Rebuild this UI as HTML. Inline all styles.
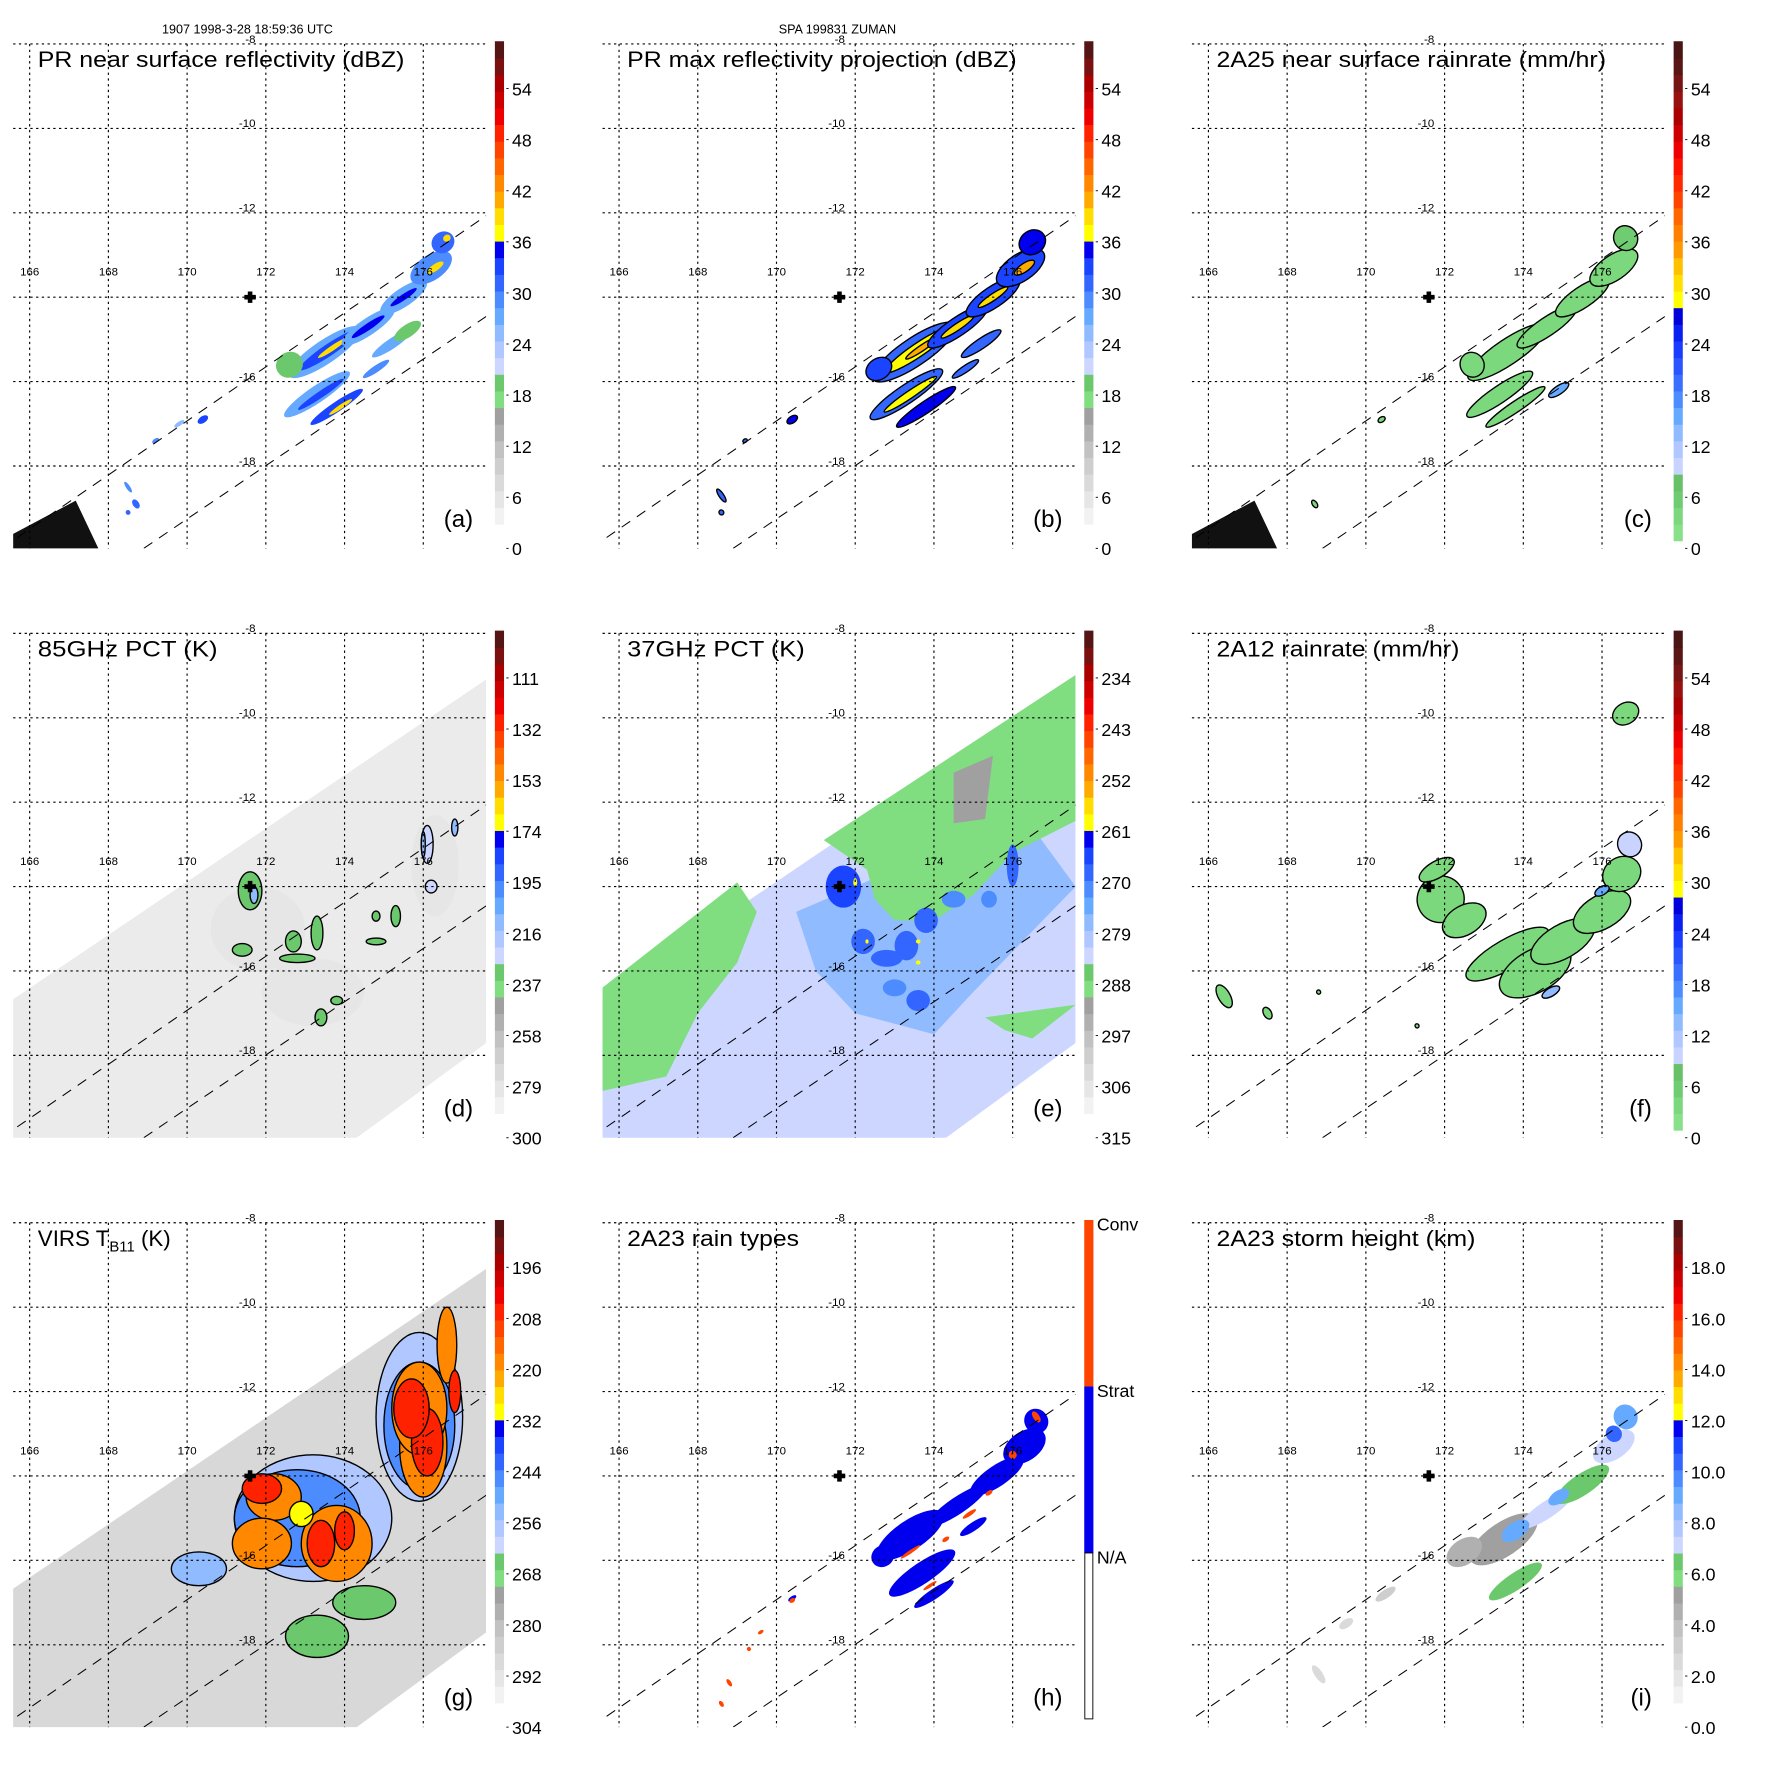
<!DOCTYPE html>
<html><head><meta charset="utf-8"><style>
html,body{margin:0;padding:0;background:#fff;}
svg{display:block;font-family:"Liberation Sans",sans-serif;}
</style></head><body>
<svg id="fig" width="1771" height="1771" viewBox="0 0 1546 1546" xmlns="http://www.w3.org/2000/svg">
<text x="216" y="29.4" font-size="11" text-anchor="middle">1907 1998-3-28 18:59:36 UTC</text>
<text x="731" y="29.4" font-size="11" text-anchor="middle">SPA 199831 ZUMAN</text>
</svg>
<script>
const NS='http://www.w3.org/2000/svg';
const svg=document.getElementById('fig');
// ---- data ----
const lonTicks=[166,168,170,172,174,176];
const latTicks=[-8,-10,-12,-14,-16,-18];
const latLabels=['-8','-10','-12','','-16','-18'];
const stormCenter=[171.6,-14.0];
const labelsA=['54','48','42','36','30','24','18','12','6','0'];
const labelsD=['111','132','153','174','195','216','237','258','279','300'];
const labelsE=['234','243','252','261','270','279','288','297','306','315'];
const labelsG=['196','208','220','232','244','256','268','280','292','304'];
const labelsI=['18.0','16.0','14.0','12.0','10.0','8.0','6.0','4.0','2.0','0.0'];
const schemeA=['#ffffff','#f2f2f2','#e6e6e6','#dadada','#cecece','#c2c2c2','#b0b0b0','#a0a0a0','#80dd80','#6cc86c','#ccd6ff','#b0c8ff','#90bbff','#66aaff','#4c8cff','#3366ff','#1a44ff','#0000ee','#ffff00','#ffdd00','#ffaa00','#ff8800','#ff6600','#ff4400','#ff2200','#ee0000','#cc0000','#aa0000','#7a1010','#551515'];
const schemeC=['#88e088','#7cd87c','#70cc70','#68c068','#c8d4ff','#b0c8ff','#90bbff','#66aaff','#4c8cff','#3a70ff','#2a55ff','#1a3cff','#0a20f0','#0000dd','#ffff00','#ffe000','#ffc000','#ff9900','#ff8000','#ff6600','#ff4400','#ff2a00','#ff1100','#ee0000','#cc0000','#aa0000','#991010','#771515','#5a1515','#4a1515'];
const swathPR=[[165.3,-19.94],[177.8,-11.94],[168.9,-19.95],[177.8,-14.33]];
const swathTMI=[[165.3,-16.85],[177.9,-8.9],[177.9,-17.5],[173.8,-20.3],[165.3,-20.3]];
const wedge=[[165.3,-19.75],[167.17,-18.82],[167.92,-20.3],[165.3,-20.3]];
// panel a: [lon,lat,rx,ry,dBZ]
const blobsA=[[173.5,-15.3,1.1,0.28,26],[173.6,-15.25,0.9,0.14,32],[173.7,-15.2,0.45,0.06,38],[173.3,-16.3,1.0,0.2,26],[173.4,-16.3,0.7,0.08,32],[173.8,-16.6,0.8,0.12,32],[173.9,-16.6,0.35,0.05,38],[174.6,-14.7,0.8,0.2,26],[174.6,-14.7,0.5,0.08,34],[175.5,-14.0,0.7,0.22,26],[175.5,-14.0,0.4,0.07,34],[176.2,-13.3,0.6,0.3,28],[176.3,-13.3,0.25,0.08,38],[176.5,-12.7,0.3,0.25,30],[176.6,-12.6,0.1,0.08,38],[175.2,-15.1,0.6,0.12,26],[172.6,-15.6,0.35,0.3,18],[175.6,-14.8,0.4,0.15,18],[174.8,-15.7,0.4,0.08,28],[170.4,-16.9,0.15,0.08,32],[169.8,-17.0,0.15,0.05,24],[169.2,-17.4,0.1,0.05,28],[168.5,-18.5,0.05,0.15,28],[168.7,-18.9,0.08,0.12,30],[168.5,-19.1,0.06,0.06,30]];
const blobsB=[[173.5,-15.3,1.25,0.33,30],[173.6,-15.25,1.0,0.16,36],[173.7,-15.2,0.5,0.07,40],[173.3,-16.3,1.1,0.22,30],[173.4,-16.3,0.8,0.09,36],[173.8,-16.6,0.9,0.14,34],[174.6,-14.7,0.9,0.22,32],[174.6,-14.7,0.5,0.08,38],[175.5,-14.0,0.8,0.25,32],[175.5,-14.0,0.45,0.08,38],[176.2,-13.3,0.7,0.32,32],[176.3,-13.3,0.3,0.1,40],[176.5,-12.7,0.35,0.28,34],[175.2,-15.1,0.6,0.12,30],[172.6,-15.7,0.35,0.25,32],[174.8,-15.7,0.4,0.08,30],[170.4,-16.9,0.15,0.08,34],[169.2,-17.4,0.06,0.04,30],[168.6,-18.7,0.06,0.18,30],[168.6,-19.1,0.06,0.06,30]];
const blobsC=[[173.6,-15.3,1.2,0.3,3],[173.4,-16.3,1.0,0.2,3],[174.6,-14.7,0.9,0.22,3],[175.5,-14.0,0.8,0.25,3],[176.3,-13.3,0.7,0.3,3],[176.6,-12.6,0.3,0.3,4],[173.8,-16.6,0.9,0.13,3],[174.9,-16.2,0.3,0.1,14],[172.7,-15.6,0.3,0.3,3],[170.4,-16.9,0.1,0.06,3],[168.7,-18.9,0.06,0.1,3]];
// panel d: [lon,lat,rx,ry,K]
const shadeD=[[171.8,-15.0,1.2,1.0,284],[173.2,-16.5,1.3,0.8,286],[176.3,-13.5,0.6,1.2,286]];
const blobsD=[[171.6,-14.1,0.3,0.45,232],[171.7,-14.2,0.1,0.2,215],[171.4,-15.5,0.25,0.15,235],[172.8,-15.7,0.45,0.1,234],[173.3,-15.1,0.15,0.4,234],[172.7,-15.3,0.2,0.25,234],[176.1,-13.0,0.15,0.45,230],[176.0,-13.0,0.05,0.3,210],[176.2,-14.0,0.15,0.15,225],[175.3,-14.7,0.12,0.25,234],[174.8,-14.7,0.1,0.12,234],[174.8,-15.3,0.25,0.08,234],[173.4,-17.1,0.15,0.2,234],[173.8,-16.7,0.15,0.1,234],[176.8,-12.6,0.08,0.2,215]];
// panel e: polygons [K, points] and blobs
const polysE=[[279,[[170.5,-14.6],[172.5,-13.8],[176.5,-12.6],[177.6,-14],[175,-16.5],[174,-17.5],[172,-17],[171,-16]]],[289,[[171.2,-12.9],[177.9,-8.8],[177.9,-12.3],[176,-13.2],[175,-14.2],[174,-14.8],[173,-14.8],[172.5,-14.3],[172.3,-13.6]]],[294,[[174.5,-11.3],[175.5,-10.9],[175.3,-12.4],[174.5,-12.5]]],[289,[[165.3,-16.6],[169,-13.9],[169.5,-14.6],[169,-15.8],[168,-17],[167.2,-18.5],[165.3,-18.9]]],[289,[[175.3,-17.1],[177.6,-16.8],[176.5,-17.6],[175.8,-17.4]]]];
const blobsE=[[171.7,-14.0,0.45,0.5,266],[172.2,-15.3,0.3,0.3,268],[172.8,-15.7,0.4,0.2,268],[173.3,-15.4,0.3,0.35,268],[173.8,-14.8,0.3,0.3,270],[174.5,-14.3,0.3,0.2,272],[175.4,-14.3,0.2,0.2,272],[176.0,-13.5,0.15,0.5,270],[173.0,-16.4,0.3,0.2,272],[173.6,-16.7,0.3,0.25,270],[173.6,-15.3,0.06,0.05,260],[173.6,-15.8,0.06,0.05,260],[172.0,-13.9,0.05,0.1,260],[172.3,-15.3,0.04,0.05,260]];
// panel f: [lon,lat,rx,ry,mm/hr]
const blobsF=[[171.9,-14.3,0.6,0.55,3],[172.5,-14.8,0.6,0.35,3],[173.6,-15.6,1.2,0.35,3],[174.3,-16.0,1.0,0.5,3],[175.0,-15.3,0.9,0.4,3],[176.0,-14.6,0.8,0.4,3],[176.5,-13.7,0.5,0.4,3],[176.7,-13.0,0.3,0.3,9],[176.6,-9.9,0.35,0.25,3],[171.8,-13.6,0.5,0.2,3],[166.4,-16.6,0.15,0.3,3],[167.5,-17.0,0.1,0.15,3],[174.7,-16.5,0.25,0.1,12],[176.0,-14.1,0.2,0.1,14],[171.3,-17.3,0.05,0.05,3],[168.8,-16.5,0.05,0.05,3]];
// panel g: [lon,lat,rx,ry,K]
const blobsG=[[173.2,-15.0,2.0,1.5,260],[175.9,-12.6,1.1,2.0,258],[170.3,-16.2,0.7,0.4,256],[173.3,-17.8,0.8,0.5,268],[174.5,-17.0,0.8,0.4,268],[172.8,-15.0,1.6,1.15,248],[175.9,-12.8,0.9,1.5,248],[172.2,-14.5,0.7,0.55,220],[171.9,-15.6,0.75,0.6,220],[173.8,-15.6,0.9,0.9,220],[176.0,-13.3,0.6,1.2,220],[175.9,-12.4,0.7,1.1,220],[176.6,-10.9,0.25,0.9,220],[172.9,-14.9,0.3,0.3,232],[171.9,-14.3,0.5,0.35,205],[173.4,-15.6,0.35,0.55,205],[174.0,-15.3,0.25,0.45,205],[176.1,-13.2,0.4,0.8,205],[175.7,-12.4,0.45,0.7,205],[176.8,-12.0,0.15,0.5,205]];
// panel h: [lon,lat,rx,ry,type] 1=strat 2=conv
const blobsH=[[173.4,-15.4,1.0,0.35,1],[173.7,-16.3,1.0,0.25,1],[174.6,-14.7,0.9,0.2,1],[175.6,-14.0,0.8,0.25,1],[176.3,-13.3,0.6,0.35,1],[176.6,-12.7,0.3,0.3,1],[174.0,-16.8,0.6,0.12,1],[175.0,-15.2,0.4,0.1,1],[172.7,-15.9,0.3,0.25,1],[170.4,-16.9,0.12,0.05,1],[173.9,-16.6,0.2,0.04,2],[173.4,-15.8,0.3,0.04,2],[174.9,-14.9,0.2,0.05,2],[176.0,-13.5,0.1,0.1,2],[176.6,-12.6,0.08,0.15,2],[170.4,-16.95,0.08,0.05,2],[169.6,-17.7,0.08,0.04,2],[169.3,-18.1,0.05,0.05,2],[168.8,-18.9,0.05,0.1,2],[168.6,-19.4,0.05,0.08,2],[175.4,-14.4,0.1,0.05,2],[174.3,-15.5,0.1,0.05,2]];
// panel i: [lon,lat,rx,ry,km]
const blobsI=[[173.5,-15.5,1.0,0.4,5],[173.8,-16.5,0.8,0.2,6],[174.6,-14.8,0.8,0.2,7],[175.5,-14.2,0.8,0.25,6],[176.3,-13.3,0.6,0.3,7],[176.6,-12.6,0.3,0.3,9],[173.8,-15.3,0.4,0.2,9],[174.9,-14.5,0.3,0.15,9],[172.5,-15.8,0.5,0.3,4],[170.5,-16.8,0.3,0.1,3],[169.5,-17.5,0.2,0.1,2],[168.8,-18.7,0.1,0.25,2],[176.3,-13.0,0.2,0.2,10]];

// ---- helpers ----
const KX=34.36, KY=36.84, OFF=514.5;
function mk(tag,attrs,parent){const e=document.createElementNS(NS,tag);for(const k in attrs)e.setAttribute(k,attrs[k]);(parent||svg).appendChild(e);return e;}
function axes(ox,oy){return{x:lon=>ox+25.9+(lon-166)*KX,y:lat=>oy+38.4+(-8-lat)*KY};}
const toPosA=v=>v, toPosD=K=>(300-K)*54/189, toPosE=K=>(315-K)*54/81, toPosG=K=>(304-K)*54/108, toPosI=km=>km*3;
function col(scheme,pos){let i=Math.floor(pos/2);i=Math.max(0,Math.min(29,i));return scheme[i];}
function pts(ax,arr){return arr.map(p=>ax.x(p[0]).toFixed(1)+','+ax.y(p[1]).toFixed(1)).join(' ');}

const titles=['PR near surface reflectivity (dBZ)','PR max reflectivity projection (dBZ)','2A25 near surface rainrate (mm/hr)','85GHz PCT (K)','37GHz PCT (K)','2A12 rainrate (mm/hr)','VIRS T','2A23 rain types','2A23 storm height (km)'];
const titleW=[320,340,340,157,155,212,0,150,226];
const letters=['(a)','(b)','(c)','(d)','(e)','(f)','(g)','(h)','(i)'];

for(let p=0;p<9;p++){
  const ox=(p%3)*OFF, oy=Math.floor(p/3)*OFF;
  const ax=axes(ox,oy);
  const g=mk('g',{});
  
  
  const clipId='c'+p;
  const cp=mk('clipPath',{id:clipId},g);mk('rect',{x:ox+11.5,y:oy+38.4,width:412.8,height:440.3},cp);
  const plot=mk('g',{'clip-path':'url(#'+clipId+')'},g);
  
  
  if(p===3||p===6){const s=mk('polygon',{points:pts(ax,swathTMI),fill:p===3?'#ebebeb':'#d8d8d8'},plot);}
  if(p===4){const s=mk('polygon',{points:pts(ax,swathTMI),fill:col(schemeA,toPosE(283))},plot);}
  if(p===0||p===2){const w=mk('polygon',{points:pts(ax,wedge),fill:'#111'},plot);}
  function blobs(arr,scheme,conv,rot,stroke){
    arr.forEach(b=>{const e=mk('ellipse',{cx:ax.x(b[0]),cy:ax.y(b[1]),rx:b[2]*KX,ry:b[3]*KY,fill:col(scheme,conv(b[4])),transform:'rotate('+rot+' '+ax.x(b[0])+' '+ax.y(b[1])+')'},plot);
      if(stroke){e.setAttribute('stroke','#000');e.setAttribute('stroke-width','1.2');}
      });
  }
  if(p===0)blobs(blobsA,schemeA,toPosA,-34,false);
  if(p===1)blobs(blobsB,schemeA,toPosA,-34,true);
  if(p===2)blobs(blobsC,schemeC,v=>v,-34,true);
  if(p===3){blobs(shadeD,schemeA,toPosD,0,false);blobs(blobsD,schemeA,toPosD,0,true);}
  if(p===4){polysE.forEach(q=>{const e=mk('polygon',{points:pts(ax,q[1]),fill:col(schemeA,toPosE(q[0]))},plot);});blobs(blobsE,schemeA,toPosE,0,false);}
  if(p===5)blobs(blobsF,schemeC,v=>v,-30,true);
  if(p===6)blobs(blobsG,schemeA,toPosG,0,true);
  if(p===7){const hc=['','#0000ee','#ff4400'];blobsH.forEach(b=>{const e=mk('ellipse',{cx:ax.x(b[0]),cy:ax.y(b[1]),rx:b[2]*KX,ry:b[3]*KY,fill:hc[b[4]],transform:'rotate(-34 '+ax.x(b[0])+' '+ax.y(b[1])+')'},plot);});}
  if(p===8)blobs(blobsI,schemeA,toPosI,-34,false);
  lonTicks.forEach(l=>{const e=mk('line',{x1:ax.x(l),x2:ax.x(l),y1:oy+38.4,y2:oy+478.7,stroke:'#000','stroke-width':1,'stroke-dasharray':'2,3'},g);
    const t=mk('text',{x:ax.x(l),y:oy+240.5,'font-size':10,'text-anchor':'middle'},g);t.textContent=l;});
  latTicks.forEach((l,i)=>{const e=mk('line',{x1:ox+11.5,x2:ox+424.3,y1:ax.y(l),y2:ax.y(l),stroke:'#000','stroke-width':1,'stroke-dasharray':'2,3'},g);
    const t=mk('text',{x:ox+223,y:ax.y(l)-1,'font-size':10,'text-anchor':'end'},g);t.textContent=latLabels[i];});
  for(let k=0;k<2;k++){const a=swathPR[k*2],b=swathPR[k*2+1];const e=mk('line',{x1:ax.x(a[0]),y1:ax.y(a[1]),x2:ax.x(b[0]),y2:ax.y(b[1]),stroke:'#000','stroke-width':0.9,'stroke-dasharray':'9,7'},plot);}
  const cx=ax.x(stormCenter[0]),cy=ax.y(stormCenter[1]);
  const cr=mk('path',{d:`M${cx-5} ${cy-2}h3v-3h4v3h3v4h-3v3h-4v-3h-3z`,fill:'#000'},g);
  const tt=mk('text',{x:ox+33,y:oy+58.5,'font-size':19.5},g);
  if(p===6){tt.innerHTML='VIRS T<tspan font-size="13" dy="5">B11</tspan><tspan dy="-5"> (K)</tspan>';}
  else{tt.textContent=titles[p];tt.setAttribute('textLength',titleW[p]);tt.setAttribute('lengthAdjust','spacingAndGlyphs');}
  const lt=mk('text',{x:ox+413,y:oy+460,'font-size':21,'text-anchor':'end'},g);lt.textContent=letters[p];
  const cb=mk('g',{},g);
  const bx=ox+432,top=oy+36,H=436;
  if(p===7){
    mk('rect',{x:bx,y:top,width:8,height:H/3,fill:'#ff4400'},cb);mk('rect',{x:bx,y:top+H/3,width:8,height:H/3,fill:'#0000ee'},cb);mk('rect',{x:bx+0.5,y:top+2*H/3,width:7,height:H/3-0.5,fill:'#fff',stroke:'#000','stroke-width':0.8},cb);
    ['Conv','Strat','N/A'].forEach((s,i)=>{const t=mk('text',{x:bx+11,y:top+i*H/3+9,'font-size':15.5},cb);t.textContent=s;});
  } else {
    const sch=(p===2||p===5)?schemeC:schemeA;
    for(let i=0;i<30;i++){mk('rect',{x:bx,y:top+H-(i+1)*H/30,width:8,height:H/30+0.5,fill:sch[i]},cb);}
    const labs=[labelsA,labelsA,labelsA,labelsD,labelsE,labelsA,labelsG,null,labelsI][p];
    labs.forEach((s,i)=>{const yy=oy+478.7-(9-i)*44.6;mk('line',{x1:bx+10,x2:bx+12,y1:yy,y2:yy,stroke:'#000','stroke-width':0.8},cb);
      const t=mk('text',{x:bx+15,y:yy+6,'font-size':15.5},cb);t.textContent=s;});
  }
}
</script>
</body></html>
